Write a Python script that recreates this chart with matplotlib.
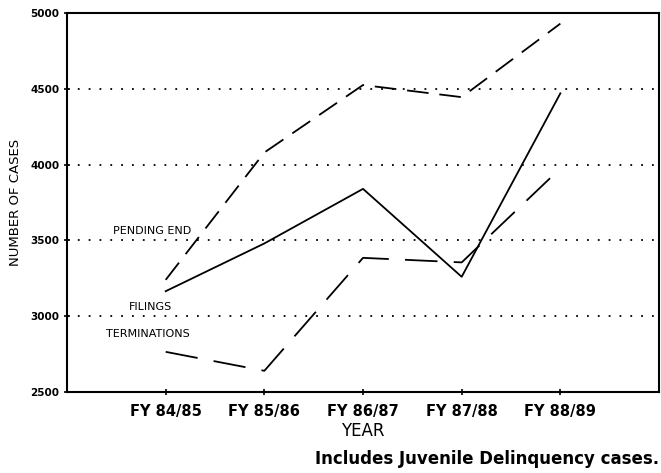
import matplotlib.pyplot as plt

# Data
years = ['FY 84/85', 'FY 85/86', 'FY 86/87', 'FY 87/88', 'FY 88/89']
pending_end = [3240, 4080, 4525, 4445, 4930]
filings = [3165, 3480, 3840, 3260, 4470]
terminations = [2765, 2640, 3385, 3355, 3975]

x = list(range(1, len(years) + 1))

fig = plt.figure(figsize=(6.61, 4.73), dpi=100)
ax = fig.add_axes([0.1014, 0.1712, 0.8956, 0.8013])

ax.plot(x, pending_end, color='black', lw=1.3, dashes=(12, 6))
ax.plot(x, filings, color='black', lw=1.3)
ax.plot(x, terminations, color='black', lw=1.3, dashes=(18, 9))

# dotted gridlines
for v in [3000, 3500, 4000, 4500]:
    ax.axhline(v, color='black', lw=1.3, ls=(0, (1, 5)))

ax.set_xlim(0, 6)
ax.set_ylim(2500, 5000)
ax.set_xticks(x)
ax.set_xticklabels(years, fontsize=10.5, fontweight='bold')
ax.set_yticks([2500, 3000, 3500, 4000, 4500, 5000])
ax.set_yticklabels(['2500', '3000', '3500', '4000', '4500', '5000'],
                   fontsize=7.5, fontweight='bold')
ax.tick_params(direction='inout', length=5, width=1.2, pad=3)
ax.tick_params(axis='x', pad=6)

for s in ax.spines.values():
    s.set_linewidth(1.5)

ax.set_xlabel('YEAR', fontsize=12, labelpad=2)
ax.set_ylabel('NUMBER OF CASES', fontsize=9.5, labelpad=6)

# series labels
ax.text(0.47, 3530, 'PENDING END', fontsize=8, va='bottom')
ax.text(0.63, 3030, 'FILINGS', fontsize=8, va='bottom')
ax.text(0.40, 2850, 'TERMINATIONS', fontsize=8, va='bottom')

fig.text(0.997, 0.02, 'Includes Juvenile Delinquency cases.', ha='right',
         fontsize=12, fontweight='bold')

plt.savefig('out.png', dpi=100)
